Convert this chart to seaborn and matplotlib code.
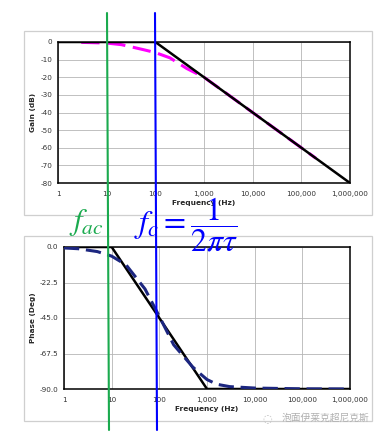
import matplotlib
matplotlib.use("Agg")
import matplotlib.pyplot as plt
import seaborn as sns
import numpy as np
from matplotlib.patches import Rectangle
from matplotlib.lines import Line2D

# gain plot data
gain_asym_f = [1, 100, 1000000]
gain_asym_db = [0, 0, -80]
gain_f = [3, 10, 20, 35, 60, 100, 200, 440, 1000, 3000, 10000, 100000, 200000]
gain_db = [-0.2, -0.6, -1.5, -3, -4.5, -6, -9, -15, -20, -29.5, -40, -60, -66]

# phase plot data
phase_asym_f = [1, 10, 1000, 1000000]
phase_asym_deg = [0, 0, -90, -90]
phase_f = [1, 2, 5, 10, 20, 50, 100, 200, 500, 700, 1000, 1600, 3000, 10000, 100000, 1000000]
phase_deg = [-0.6, -1.1, -2.9, -5.8, -11.3, -26.6, -44, -62, -76, -80, -84, -87, -88.5, -89.4, -89.9, -90]

freq_ticks = [1, 10, 100, 1000, 10000, 100000, 1000000]
freq_labels = ["1", "10", "100", "1,000", "10,000", "100,000", "1,000,000"]
gain_ticks = [0, -10, -20, -30, -40, -50, -60, -70, -80]
phase_ticks = [0.0, -22.5, -45.0, -67.5, -90.0]

sns.set_style("white")
plt.rcParams['font.family'] = ['DejaVu Sans', 'Noto Sans CJK SC']
plt.rcParams['mathtext.fontset'] = 'stix'

W, H = 384, 437
fig = plt.figure(figsize=(W / 100, H / 100), dpi=100)

def fx(px):
    return px / W

def fy(py):
    return 1 - py / H

# outer panel boxes
for top, bot in [(31, 215), (236, 421)]:
    fig.patches.append(Rectangle((fx(24), fy(bot)), fx(372) - fx(24), fy(top) - fy(bot),
                                 transform=fig.transFigure, fill=False,
                                 edgecolor="#cfcfcf", lw=0.9, zorder=0))

ax1 = fig.add_axes([fx(58), fy(183), fx(350) - fx(58), fy(42) - fy(183)])
ax2 = fig.add_axes([fx(64), fy(389), fx(350) - fx(64), fy(247) - fy(389)])

sns.lineplot(x=gain_f, y=gain_db, ax=ax1, color="#ff00ff", lw=2.2,
             linestyle=(0, (6, 2.5)), estimator=None, sort=False, zorder=3)
sns.lineplot(x=gain_asym_f, y=gain_asym_db, ax=ax1, color="black", lw=1.8,
             estimator=None, sort=False, zorder=4)

sns.lineplot(x=phase_asym_f, y=phase_asym_deg, ax=ax2, color="black", lw=1.8,
             estimator=None, sort=False, zorder=3)
sns.lineplot(x=phase_f, y=phase_deg, ax=ax2, color="#1c2680", lw=2.2,
             linestyle=(0, (5, 2.2)), estimator=None, sort=False, zorder=4)

for ax, yt, ylab, fmt in [(ax1, gain_ticks, "Gain (dB)", "{:.0f}"),
                          (ax2, phase_ticks, "Phase (Deg)", "{:.1f}")]:
    ax.set_xscale("log")
    ax.set_xlim(1, 1000000)
    ax.set_ylim(min(yt), max(yt))
    ax.set_xticks(freq_ticks)
    ax.set_xticklabels(freq_labels)
    ax.minorticks_off()
    ax.set_yticks(yt)
    ax.set_yticklabels([fmt.format(v) for v in yt])
    ax.grid(True, color="#b5b5b5", lw=0.6)
    ax.tick_params(length=0, labelsize=5.2, colors="#333333", pad=4)
    ax.tick_params(axis="x", pad=6)
    ax.set_xlabel("Frequency (Hz)", fontsize=5.3, fontweight="bold", labelpad=2)
    ax.set_ylabel(ylab, fontsize=5.3, fontweight="bold", labelpad=3)
    for s in ax.spines.values():
        s.set_color("black")
        s.set_linewidth(1.1)
        s.set_visible(True)

# marker lines across both charts
fig.lines.append(Line2D([fx(107), fx(109)], [fy(13), fy(430)], transform=fig.transFigure,
                        color="#1aaa4e", lw=1.5, zorder=10))
fig.lines.append(Line2D([fx(155), fx(157)], [fy(13), fy(430)], transform=fig.transFigure,
                        color="#0000ff", lw=1.5, zorder=10))

fig.text(fx(69), fy(223), r"$f_{ac}$", color="#1aaa4e", fontsize=22, va="center", ha="left")
fig.text(fx(134), fy(225), r"$f_c = \dfrac{1}{2\pi\tau}$", color="#0000ff", fontsize=23,
         va="center", ha="left")

fig.text(fx(282), fy(418), "泡面伊莱克超尼克斯", color="#b0b0b0", fontsize=7,
         family=["Noto Sans CJK SC", "DejaVu Sans"], va="center", ha="left")
fig.text(fx(262), fy(418), "◌", color="#c0c0c0", fontsize=8, va="center", ha="left")

fig.savefig("out.png", dpi=100)
